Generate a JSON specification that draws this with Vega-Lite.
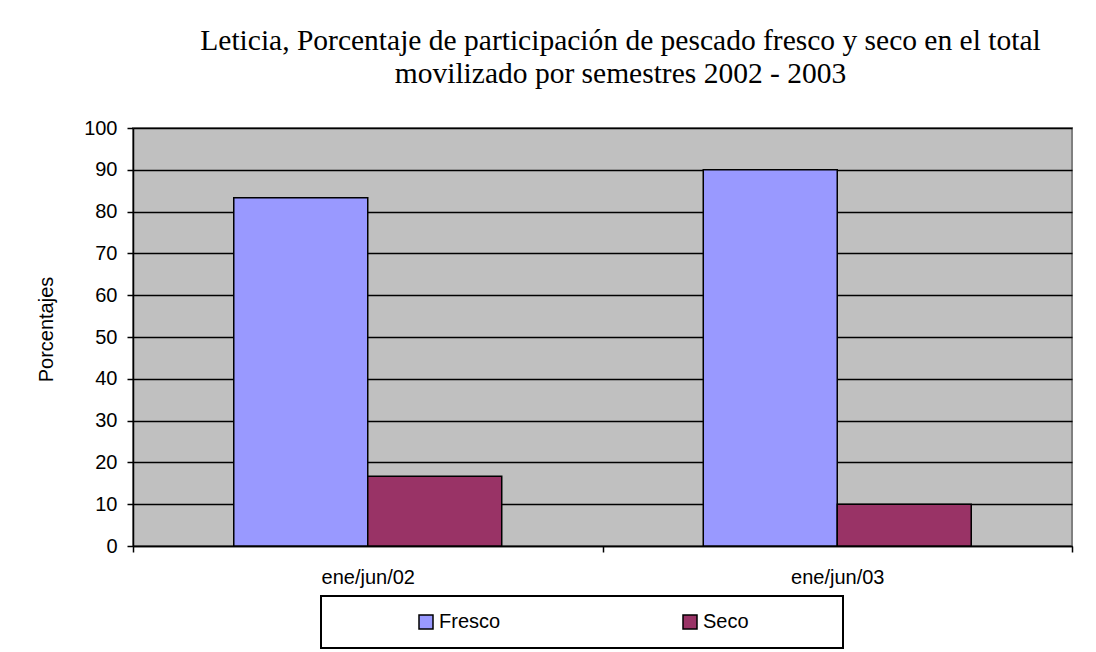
{
  "$schema": "https://vega.github.io/schema/vega-lite/v6.json",
  "autosize": {"type": "none"},
  "width": 939,
  "height": 418,
  "padding": {"left": 133, "top": 128, "right": 24, "bottom": 106},
  "background": "white",
  "title": {
    "text": ["Leticia, Porcentaje de participación de pescado fresco y seco en el total", "movilizado por semestres 2002 - 2003"],
    "font": "Liberation Serif",
    "fontSize": 29.5,
    "fontWeight": "normal",
    "lineHeight": 33,
    "color": "black",
    "anchor": "middle",
    "dx": 18,
    "offset": 29
  },
  "data": {
    "values": [
      {"periodo": "ene/jun/02", "tipo": "Fresco", "valor": 83.3},
      {"periodo": "ene/jun/02", "tipo": "Seco", "valor": 16.7},
      {"periodo": "ene/jun/03", "tipo": "Fresco", "valor": 90.0},
      {"periodo": "ene/jun/03", "tipo": "Seco", "valor": 10.0}
    ]
  },
  "config": {
    "view": {"fill": "#C0C0C0", "stroke": "#808080", "strokeWidth": 2},
    "font": "Liberation Sans"
  },
  "mark": {"type": "bar", "stroke": "black", "strokeWidth": 1.5},
  "encoding": {
    "x": {
      "field": "periodo",
      "type": "nominal",
      "scale": {"paddingInner": 0, "paddingOuter": 0},
      "axis": {
        "title": null,
        "labelAngle": 0,
        "labelFont": "Liberation Sans",
        "labelFontSize": 20,
        "labelColor": "black",
        "labelPadding": 15,
        "tickBand": "extent",
        "tickSize": 6,
        "tickColor": "black",
        "tickWidth": 1.5,
        "domainColor": "black",
        "domainWidth": 1.5
      }
    },
    "xOffset": {
      "field": "tipo",
      "type": "nominal",
      "scale": {"paddingInner": 0, "paddingOuter": 0.752}
    },
    "y": {
      "field": "valor",
      "type": "quantitative",
      "scale": {"domain": [0, 100], "nice": false},
      "axis": {
        "title": "Porcentajes",
        "titleFont": "Liberation Sans",
        "titleFontSize": 20,
        "titleFontWeight": "normal",
        "titleColor": "black",
        "titlePadding": 27,
        "titleY": 201,
        "values": [0, 10, 20, 30, 40, 50, 60, 70, 80, 90, 100],
        "labelFont": "Liberation Sans",
        "labelFontSize": 20,
        "labelColor": "black",
        "labelPadding": 10,
        "tickSize": 6,
        "tickColor": "black",
        "tickWidth": 1.5,
        "domainColor": "black",
        "domainWidth": 1.5,
        "grid": true,
        "gridColor": "black",
        "gridWidth": 1.5,
        "gridOpacity": 1
      }
    },
    "color": {
      "field": "tipo",
      "type": "nominal",
      "scale": {"domain": ["Fresco", "Seco"], "range": ["#9999FF", "#993366"]},
      "legend": {
        "title": null,
        "orient": "none",
        "legendX": 188,
        "legendY": 468,
        "direction": "horizontal",
        "fillColor": "white",
        "strokeColor": "black",
        "padding": 16,
        "symbolType": "square",
        "symbolSize": 196,
        "symbolStrokeColor": "black",
        "symbolStrokeWidth": 1.5,
        "symbolOpacity": 1,
        "symbolOffset": 79,
        "labelFont": "Liberation Sans",
        "labelFontSize": 20,
        "labelColor": "black",
        "labelOffset": 3,
        "columnPadding": 100,
        "labelExpr": "datum.label == 'Seco' ? 'Seco              \u200B' : datum.label",
        "encode": {"legend": {"update": {"strokeWidth": {"value": 2}}}}
      }
    }
  }
}
